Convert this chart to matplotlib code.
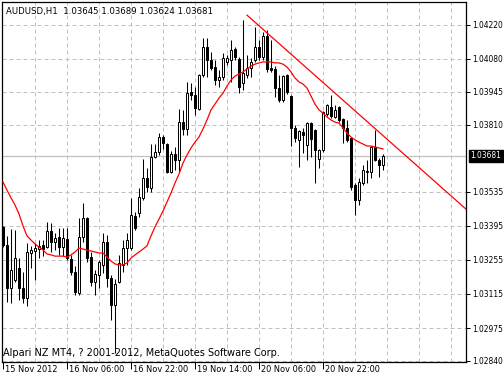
import matplotlib
matplotlib.use("Agg")
import matplotlib.pyplot as plt

# --- data (AUDUSD, H1) ---
opens = [1.03390, 1.03316, 1.03139, 1.03172, 1.03221, 1.03139, 1.03098, 1.03283, 1.03291, 1.03299,
         1.03316, 1.03307, 1.03373, 1.03328, 1.03349, 1.03307, 1.03340, 1.03258, 1.03205, 1.03119,
         1.03349, 1.03426, 1.03266, 1.03164, 1.03192, 1.03234, 1.03328, 1.03180, 1.03069, 1.03164,
         1.03234, 1.03303, 1.03303, 1.03435, 1.03447, 1.03509, 1.03591, 1.03550, 1.03677, 1.03697,
         1.03759, 1.03730, 1.03615, 1.03689, 1.03664, 1.03820, 1.03792, 1.03943, 1.03931, 1.03874,
         1.04013, 1.04128, 1.04075, 1.04046, 1.03993, 1.04005, 1.04067, 1.04075, 1.04120, 1.04079,
         1.03980, 1.04013, 1.04042, 1.04075, 1.04128, 1.04087, 1.04173, 1.04042, 1.04038, 1.03960,
         1.03911, 1.04013, 1.03927, 1.03796, 1.03747, 1.03779, 1.03726, 1.03816, 1.03788, 1.03669,
         1.03706, 1.03853, 1.03882, 1.03841, 1.03882, 1.03833, 1.03796, 1.03755, 1.03562, 1.03500,
         1.03570, 1.03615, 1.03615, 1.03718, 1.03664, 1.03645]
highs = [1.03394, 1.03353, 1.03381, 1.03377, 1.03262, 1.03205, 1.03324, 1.03312, 1.03324, 1.03336,
         1.03336, 1.03410, 1.03406, 1.03365, 1.03385, 1.03385, 1.03385, 1.03275, 1.03229, 1.03426,
         1.03488, 1.03431, 1.03287, 1.03213, 1.03254, 1.03365, 1.03357, 1.03192, 1.03176, 1.03275,
         1.03336, 1.03365, 1.03509, 1.03451, 1.03550, 1.03669, 1.03632, 1.03730, 1.03730, 1.03775,
         1.03767, 1.03734, 1.03701, 1.03718, 1.03874, 1.03870, 1.03985, 1.03980, 1.03964, 1.04017,
         1.04165, 1.04165, 1.04108, 1.04075, 1.04034, 1.04104, 1.04095, 1.04157, 1.04128, 1.04087,
         1.04239, 1.04095, 1.04083, 1.04210, 1.04157, 1.04190, 1.04198, 1.04157, 1.04050, 1.04013,
         1.04013, 1.04017, 1.03931, 1.03808, 1.03788, 1.03796, 1.03820, 1.03820, 1.03792, 1.03710,
         1.03865, 1.03894, 1.03931, 1.03890, 1.03886, 1.03837, 1.03829, 1.03759, 1.03570, 1.03591,
         1.03644, 1.03664, 1.03722, 1.03788, 1.03673, 1.03689]
lows = [1.03307, 1.03082, 1.03078, 1.03164, 1.03090, 1.03078, 1.03065, 1.03221, 1.03172, 1.03262,
        1.03270, 1.03303, 1.03287, 1.03295, 1.03275, 1.03270, 1.03254, 1.03192, 1.03110, 1.03110,
        1.03328, 1.03246, 1.03147, 1.03110, 1.03139, 1.03201, 1.03143, 1.03008, 1.02873, 1.03160,
        1.03205, 1.03234, 1.03295, 1.03377, 1.03431, 1.03500, 1.03533, 1.03533, 1.03673, 1.03685,
        1.03710, 1.03611, 1.03611, 1.03623, 1.03615, 1.03767, 1.03767, 1.03911, 1.03849, 1.03870,
        1.04005, 1.04005, 1.04034, 1.03972, 1.03964, 1.03993, 1.04054, 1.03985, 1.04075, 1.03939,
        1.03952, 1.04001, 1.04005, 1.04067, 1.04075, 1.04075, 1.04026, 1.04026, 1.03923, 1.03902,
        1.03902, 1.03935, 1.03722, 1.03738, 1.03636, 1.03693, 1.03664, 1.03677, 1.03570, 1.03632,
        1.03697, 1.03845, 1.03837, 1.03837, 1.03820, 1.03734, 1.03738, 1.03541, 1.03439, 1.03480,
        1.03562, 1.03570, 1.03591, 1.03660, 1.03595, 1.03624]
closes = [1.03316, 1.03139, 1.03213, 1.03262, 1.03139, 1.03098, 1.03287, 1.03295, 1.03303, 1.03312,
          1.03299, 1.03373, 1.03328, 1.03344, 1.03307, 1.03344, 1.03262, 1.03205, 1.03123, 1.03349,
          1.03426, 1.03262, 1.03164, 1.03197, 1.03246, 1.03328, 1.03180, 1.03069, 1.03156, 1.03242,
          1.03303, 1.03336, 1.03439, 1.03385, 1.03513, 1.03591, 1.03554, 1.03677, 1.03697, 1.03759,
          1.03734, 1.03615, 1.03689, 1.03664, 1.03820, 1.03792, 1.03939, 1.03931, 1.03878, 1.04013,
          1.04128, 1.04075, 1.04042, 1.03993, 1.04005, 1.04083, 1.04083, 1.04116, 1.04087, 1.03964,
          1.04021, 1.04042, 1.04067, 1.04128, 1.04087, 1.04173, 1.04038, 1.04034, 1.03960, 1.03911,
          1.04009, 1.03943, 1.03796, 1.03755, 1.03783, 1.03767, 1.03816, 1.03751, 1.03706, 1.03706,
          1.03861, 1.03890, 1.03845, 1.03870, 1.03829, 1.03796, 1.03747, 1.03554, 1.03500, 1.03574,
          1.03623, 1.03619, 1.03718, 1.03664, 1.03644, 1.03681]
ma = [1.03574, 1.03541, 1.03509, 1.03480, 1.03443, 1.03394, 1.03353, 1.03336, 1.03320, 1.03307,
      1.03295, 1.03279, 1.03275, 1.03270, 1.03270, 1.03270, 1.03266, 1.03275, 1.03287, 1.03303,
      1.03299, 1.03295, 1.03291, 1.03287, 1.03283, 1.03283, 1.03266, 1.03250, 1.03238, 1.03234,
      1.03234, 1.03242, 1.03262, 1.03275, 1.03287, 1.03299, 1.03312, 1.03353, 1.03390, 1.03422,
      1.03455, 1.03492, 1.03529, 1.03570, 1.03607, 1.03652, 1.03685, 1.03714, 1.03738, 1.03759,
      1.03792, 1.03829, 1.03870, 1.03894, 1.03919, 1.03939, 1.03968, 1.03993, 1.04009, 1.04017,
      1.04026, 1.04038, 1.04050, 1.04058, 1.04063, 1.04067, 1.04067, 1.04067, 1.04063, 1.04063,
      1.04058, 1.04046, 1.04026, 1.04001, 1.03985, 1.03976, 1.03960, 1.03927, 1.03894, 1.03870,
      1.03857, 1.03841, 1.03829, 1.03820, 1.03816, 1.03796, 1.03775, 1.03759, 1.03747, 1.03738,
      1.03730, 1.03722, 1.03722, 1.03718, 1.03714, 1.03710]
trend_bars = [61, 115.75]
trend_prices = [1.04259, 1.03463]
price_ticks = [1.04220, 1.04080, 1.03945, 1.03810, 1.03535, 1.03395, 1.03255, 1.03115, 1.02975, 1.02840]
time_tick_bars = [0, 16, 32, 48, 64, 80]
time_tick_labels = ["15 Nov 2012", "16 Nov 06:00", "16 Nov 22:00", "19 Nov 14:00",
                    "20 Nov 06:00", "20 Nov 22:00"]
grid_bars = list(range(8, 116, 8))
last_price = 1.03681
title = "AUDUSD,H1  1.03645 1.03689 1.03624 1.03681"
copyright_text = "Alpari NZ MT4, ? 2001-2012, MetaQuotes Software Corp."

plt.rcParams['font.family'] = ['DejaVu Sans']
plt.rcParams['font.stretch'] = 'condensed'
fs = 6.0

W, H = 504, 380
fig = plt.figure(figsize=(W / 100, H / 100), dpi=100)
ax = fig.add_axes([2 / W, 1 - 362 / H, 464 / W, 360 / H])
ax.set_xlim(-0.25, 115.75)
ax.set_ylim(1.028355, 1.04313)

dash = (0, (4, 3))
for p in price_ticks:
    ax.axhline(p, color="#c0c0c0", lw=0.72, ls=dash, zorder=0)
for b in grid_bars:
    ax.axvline(b, color="#c0c0c0", lw=0.72, ls=dash, zorder=0)
ax.axhline(last_price, color="#c0c0c0", lw=0.9, zorder=0.5)

n = len(opens)
xs = list(range(n))
ax.vlines(xs, lows, highs, color="black", lw=0.75, zorder=2)
for i in xs:
    o, c = opens[i], closes[i]
    bull = c >= o
    ax.bar(i, abs(c - o) if abs(c - o) > 0 else 1e-7, bottom=min(o, c), width=0.5,
           color="white" if bull else "black", edgecolor="black", lw=0.72, zorder=3)

ax.plot(xs, ma, color="red", lw=0.9, zorder=4)
ax.plot(trend_bars, trend_prices, color="red", lw=0.9, zorder=4)

for s in ax.spines.values():
    s.set_color("black")
    s.set_linewidth(0.9)

ax.yaxis.tick_right()
ax.set_yticks(price_ticks)
ax.set_yticklabels(["%.5f" % p for p in price_ticks], fontsize=fs)
ax.tick_params(axis="y", length=3, width=0.72, pad=1.2, colors="black")
ax.set_xticks([b - 0.05 for b in time_tick_bars])
ax.set_xticklabels([])
ax.tick_params(axis="x", length=5, width=0.72, direction="out")
for b, lab in zip(time_tick_bars, time_tick_labels):
    ax.text(b + 0.6, -0.008, lab, transform=ax.get_xaxis_transform(), ha="left", va="top",
            fontsize=6.6, clip_on=False)

ax.text(1.009, last_price, "%.5f" % last_price, transform=ax.get_yaxis_transform(),
        ha="left", va="center", fontsize=fs, color="white", clip_on=False,
        bbox=dict(boxstyle="square,pad=0.2", fc="black", ec="black"))

ax.text(0.008, 0.985, title, transform=ax.transAxes, ha="left", va="top", fontsize=6.8)
ax.text(0.003, 0.012, copyright_text, transform=ax.transAxes, ha="left", va="bottom",
        fontsize=7.0, fontstretch="normal")

fig.savefig("out.png", dpi=100)
